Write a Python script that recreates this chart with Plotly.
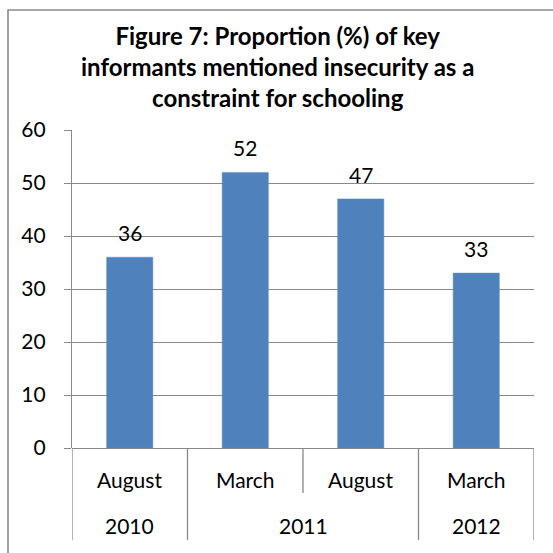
import plotly.graph_objects as go

# Survey rounds and share of key informants citing insecurity
months = ["August", "March", "August", "March"]
years = ["2010", "2011", "2012"]
year_spans = [(0, 0), (1, 2), (3, 3)]  # index range of rounds belonging to each year
values = [36, 52, 47, 33]
y_ticks = [0, 10, 20, 30, 40, 50, 60]

BAR = "#4F81BD"
GRID = "#898989"
FONT = "Lato"
LABEL_SIZE = 21
W = H = 553
# plot area in pixels
L, R, T, B = 72, 534, 130, 448


def py(pix):
    """pixel row -> paper y"""
    return (B - pix) / (B - T)


def px(pix):
    """pixel column -> paper x"""
    return (pix - L) / (R - L)


xs = list(range(len(values)))

fig = go.Figure(
    go.Bar(
        x=xs,
        y=values,
        width=0.4,
        marker=dict(color=BAR, line=dict(color="#5b8cc6", width=0.5)),
        hoverinfo="skip",
    )
)

shapes = []
annotations = []

# value labels above the bars
for x, v in zip(xs, values):
    annotations.append(dict(
        x=x, y=v, xref="x", yref="y", text=str(v), showarrow=False,
        yanchor="bottom", yshift=10, font=dict(size=LABEL_SIZE, color="#000000", family=FONT),
    ))

# category separators below the axis: long at year boundaries, short inside a year
boundaries = [-0.5, 0.5, 1.5, 2.5, 3.5]
year_edges = {-0.5, 0.5, 2.5, 3.5}
for bx in boundaries:
    bottom = py(540) if bx in year_edges else py(493)
    shapes.append(dict(
        type="line", xref="x", yref="paper", x0=bx, x1=bx, y0=0, y1=bottom,
        line=dict(color=GRID, width=1.3),
    ))

# month labels
for x, m in zip(xs, months):
    annotations.append(dict(
        x=x, y=py(479), xref="x", yref="paper", text=m, showarrow=False,
        yanchor="middle", font=dict(size=LABEL_SIZE, color="#000000", family=FONT),
    ))

# year labels centred on their rounds
for yr, (a, b) in zip(years, year_spans):
    annotations.append(dict(
        x=(a + b) / 2, y=py(525), xref="x", yref="paper", text=yr, showarrow=False,
        yanchor="middle", font=dict(size=LABEL_SIZE, color="#000000", family=FONT),
    ))

# chart frame (left and top edges fall inside the page)
shapes.append(dict(
    type="rect", xref="paper", yref="paper",
    x0=px(8), x1=px(620), y0=py(620), y1=py(10),
    line=dict(color="#8a8a8a", width=1.6), fillcolor="rgba(0,0,0,0)", layer="below",
))

# title
annotations.append(dict(
    x=px(277), y=py(67), xref="paper", yref="paper", showarrow=False,
    text="<b>Figure 7: Proportion (%) of key<br>informants mentioned insecurity as a<br>constraint for schooling</b>",
    yanchor="middle", xanchor="center", align="center",
    font=dict(size=24, color="#000000", family=FONT),
))

fig.update_layout(
    width=W, height=H,
    margin=dict(l=L, r=W - R, t=T, b=H - B, pad=0),
    paper_bgcolor="white", plot_bgcolor="white",
    showlegend=False,
    bargap=0.6,
    shapes=shapes,
    annotations=annotations,
    xaxis=dict(
        range=[-0.5, 3.5], showticklabels=False, ticks="", showgrid=False,
        zeroline=False, showline=False, fixedrange=True,
    ),
    yaxis=dict(
        range=[0, 60], tickvals=y_ticks, ticks="outside", ticklen=7,
        tickcolor=GRID, tickwidth=1.3, showline=True, linecolor=GRID, linewidth=1.3,
        showgrid=True, gridcolor=GRID, gridwidth=1.3, zeroline=True,
        zerolinecolor=GRID, zerolinewidth=1.3, ticklabelstandoff=14,
        tickfont=dict(size=LABEL_SIZE, color="#000000", family=FONT), fixedrange=True,
    ),
)

fig.write_html("out.html")
